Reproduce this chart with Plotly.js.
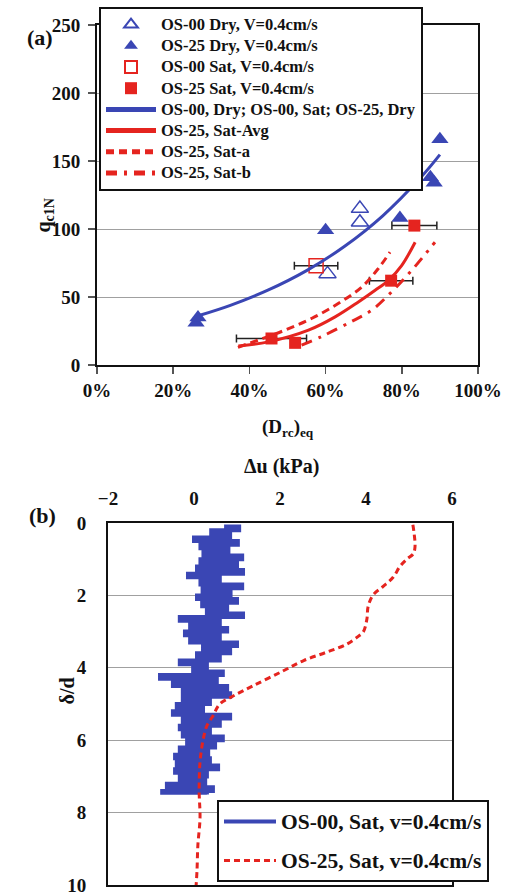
<!DOCTYPE html>
<html>
<head>
<meta charset="utf-8">
<script src="https://cdn.plot.ly/plotly-3.0.1.min.js"></script>
<style>
  html, body { margin: 0; padding: 0; background: #fff; }
  #chart { width: 508px; height: 896px; }
</style>
</head>
<body>
<div id="chart"></div>
<script>
// ---------- (a) normalized cone resistance vs equivalent relative density ----------
const os00DryD = [0.69, 0.69, 0.605];
const os00DryQ = [115, 105, 67];

const os25DryD = [0.26, 0.265, 0.60, 0.795, 0.875, 0.885, 0.90];
const os25DryQ = [31, 35, 99, 108, 138, 134, 166];

const os00SatD = [0.575];
const os00SatQ = [73];
const os00SatErr = [0.057];

const os25SatD = [0.458, 0.52, 0.772, 0.833];
const os25SatQ = [19.5, 16.3, 62, 102.5];
const os25SatErr = [0.092, 0, 0.057, 0.059];

// trend curves
const dryFitD = [0.27, 0.35, 0.45, 0.55, 0.65, 0.75, 0.85, 0.90];
const dryFitQ = [36.6, 43.9, 55.2, 69.4, 87.3, 109.7, 138.0, 154.7];

const satAvgD = [0.371, 0.45, 0.555, 0.625, 0.686, 0.73, 0.765, 0.80, 0.835];
const satAvgQ = [13.9, 17.0, 25.6, 35.4, 46.4, 55.0, 62.3, 73.3, 90.3];

const satAD = [0.37, 0.423, 0.493, 0.563, 0.633, 0.695, 0.738, 0.769];
const satAQ = [13.0, 18.3, 25.6, 34.2, 45.2, 57.4, 70.8, 83.0];

const satBD = [0.537, 0.59, 0.668, 0.721, 0.773, 0.826, 0.887];
const satBQ = [14.6, 21.0, 32.0, 40.3, 53.7, 69.6, 90.3];

// ---------- (b) excess pore pressure vs normalized penetration depth ----------
const os00Depth = [0.1, 0.2, 0.3, 0.4, 0.5, 0.6, 0.7, 0.8, 0.9, 1.0,
  1.1, 1.2, 1.3, 1.4, 1.5, 1.6, 1.7, 1.8, 1.9, 2.0,
  2.1, 2.2, 2.3, 2.4, 2.5, 2.6, 2.7, 2.8, 2.9, 3.0,
  3.1, 3.2, 3.3, 3.4, 3.5, 3.6, 3.7, 3.8, 3.9, 4.0,
  4.1, 4.2, 4.3, 4.4, 4.5, 4.6, 4.7, 4.8, 4.9, 5.0,
  5.1, 5.2, 5.3, 5.4, 5.5, 5.6, 5.7, 5.8, 5.9, 6.0,
  6.1, 6.2, 6.3, 6.4, 6.5, 6.6, 6.7, 6.8, 6.9, 7.0,
  7.1, 7.2, 7.3, 7.4, 7.45, 7.5];
const os00Du = [0.70, 1.05, 0.40, 0.84, 0.00, 1.02, 0.15, 0.80, 0.22, 1.12,
  0.15, 1.00, 0.07, 1.14, -0.14, 0.60, 0.15, 1.12, 0.20, 0.85,
  0.07, 1.00, 0.19, 0.77, 0.30, 1.14, -0.33, 0.60, -0.09, 0.77,
  -0.21, 0.60, -0.09, 1.00, 0.21, 0.84, 0.07, 0.60, -0.33, 0.30,
  -0.02, 0.67, -0.79, 0.53, -0.49, 0.77, -0.26, 0.84, -0.26, 0.37,
  -0.40, 0.21, -0.49, 0.84, -0.26, 0.60, -0.33, 0.37, -0.26, 0.67,
  -0.16, 0.49, -0.33, 0.33, -0.44, 0.37, -0.40, 0.56, -0.44, 0.30,
  -0.33, 0.26, -0.63, 0.44, -0.74, 0.30];

const os25Depth = [0.05, 0.3, 0.65, 0.85, 1.0, 1.2, 1.5, 1.75, 1.98, 2.3,
  2.66, 3.0, 3.13, 3.35, 3.57, 3.8, 4.1, 4.5, 4.78, 5.0,
  5.33, 5.6, 6.0, 6.6, 7.4, 8.15, 8.9, 9.6, 10.0];
const os25Du = [5.09, 5.12, 5.14, 5.10, 4.95, 4.79, 4.63, 4.40, 4.17, 4.05,
  4.02, 3.94, 3.82, 3.55, 3.08, 2.55, 2.05, 1.37, 0.91, 0.60,
  0.44, 0.30, 0.21, 0.14, 0.12, 0.14, 0.09, 0.07, 0.05];

const BLUE = '#3a46b4';
const RED = '#e5241f';
const SERIF = '"Liberation Serif", "Times New Roman", Times, serif';
const boldFont = (size, color) => ({ family: SERIF, size: size, color: color || '#111', weight: 'bold' });
// legend rows are spaced by the legend font; the label itself is set a little larger
const big = (label, size) => '<span style="font-size:' + size + 'px">' + label + '</span>';

const traces = [
  { x: os00DryD, y: os00DryQ, type: 'scatter', mode: 'markers', name: big('OS-00 Dry, V=0.4cm/s', 16.5),
    marker: { symbol: 'triangle-up-open', size: 15, color: BLUE, line: { width: 1.5, color: BLUE } } },
  { x: os25DryD, y: os25DryQ, type: 'scatter', mode: 'markers', name: big('OS-25 Dry, V=0.4cm/s', 16.5),
    marker: { symbol: 'triangle-up', size: 15, color: BLUE } },
  { x: os00SatD, y: os00SatQ, type: 'scatter', mode: 'markers', name: big('OS-00 Sat, V=0.4cm/s', 16.5),
    marker: { symbol: 'square-open', size: 14, color: RED, line: { width: 1.5, color: RED } },
    error_x: { type: 'data', array: os00SatErr, color: '#222', thickness: 1.5, width: 4 } },
  { x: os25SatD, y: os25SatQ, type: 'scatter', mode: 'markers', name: big('OS-25 Sat, V=0.4cm/s', 16.5),
    marker: { symbol: 'square', size: 12, color: RED },
    error_x: { type: 'data', array: os25SatErr, color: '#222', thickness: 1.5, width: 4 } },
  { x: dryFitD, y: dryFitQ, type: 'scatter', mode: 'lines', name: big('OS-00, Dry; OS-00, Sat; OS-25, Dry', 16.5),
    line: { color: BLUE, width: 3, shape: 'spline' } },
  { x: satAvgD, y: satAvgQ, type: 'scatter', mode: 'lines', name: big('OS-25, Sat-Avg', 16.5),
    line: { color: RED, width: 3, shape: 'spline' } },
  { x: satAD, y: satAQ, type: 'scatter', mode: 'lines', name: big('OS-25, Sat-a', 16.5),
    line: { color: RED, width: 3, shape: 'spline', dash: '8px,5px' } },
  { x: satBD, y: satBQ, type: 'scatter', mode: 'lines', name: big('OS-25, Sat-b', 16.5),
    line: { color: RED, width: 3, shape: 'spline', dash: '11px,7px,3px,7px' } },

  { x: os00Du, y: os00Depth, type: 'scatter', mode: 'lines', name: big('OS-00, Sat, v=0.4cm/s', 21.5),
    xaxis: 'x2', yaxis: 'y2', legend: 'legend2', legendgroup: 'b1',
    line: { color: BLUE, width: 4, shape: 'hv' } },
  { x: os25Du, y: os25Depth, type: 'scatter', mode: 'lines', name: big('OS-25, Sat, v=0.4cm/s', 21.5),
    xaxis: 'x2', yaxis: 'y2', legend: 'legend2', legendgroup: 'b2',
    line: { color: RED, width: 3, shape: 'spline', dash: '6px,4px' } }
];

const W = 508, H = 896;
const px = v => v / W;
const py = v => 1 - v / H;

const axisBase = {
  showline: true, linecolor: '#111', linewidth: 2, mirror: true,
  zeroline: false, tickfont: boldFont(19), gridcolor: '#a0a0a0', gridwidth: 1,
  ticklabeloverflow: 'allow'
};

const layout = {
  width: W, height: H,
  margin: { l: 0, r: 0, t: 0, b: 0 },
  paper_bgcolor: '#fff', plot_bgcolor: '#fff',
  showlegend: true,
  font: { family: SERIF },
  xaxis: Object.assign({}, axisBase, {
    domain: [px(97), px(478)], range: [0, 1], dtick: 0.2, tickformat: '.0%',
    showgrid: false, ticks: 'outside', ticklen: 7, tickwidth: 1.5, tickcolor: '#555', anchor: 'y'
  }),
  yaxis: Object.assign({}, axisBase, {
    domain: [py(365), py(25)], range: [0, 250], dtick: 50,
    showgrid: true, ticks: 'outside', ticklen: 7, tickwidth: 1.5, tickcolor: '#555', anchor: 'x',
    ticklabelstandoff: 4
  }),
  xaxis2: Object.assign({}, axisBase, {
    domain: [px(108), px(452)], range: [-2, 6], dtick: 2, side: 'top',
    showgrid: false, ticks: '', anchor: 'y2', ticklabelstandoff: 8
  }),
  yaxis2: Object.assign({}, axisBase, {
    domain: [py(885), py(523)], range: [10, 0], dtick: 2,
    showgrid: true, ticks: '', anchor: 'x2', ticklabelstandoff: 16
  }),
  legend: {
    x: px(99), y: py(7), xanchor: 'left', yanchor: 'top',
    bgcolor: '#fff', bordercolor: '#111', borderwidth: 2,
    font: boldFont(14), tracegroupgap: 0, itemsizing: 'constant', itemwidth: 50
  },
  legend2: {
    x: px(217), y: py(800), xanchor: 'left', yanchor: 'top',
    bgcolor: '#fff', bordercolor: '#111', borderwidth: 2,
    font: boldFont(20), traceorder: 'grouped', tracegroupgap: 10, itemwidth: 52
  },
  annotations: [
    { text: '(a)', x: px(25), y: py(23), xref: 'paper', yref: 'paper', showarrow: false, font: boldFont(22) },
    { text: '(b)', x: px(27), y: py(515), xref: 'paper', yref: 'paper', showarrow: false, font: boldFont(22) },
    { text: 'q<sub>c1N</sub>', x: px(30), y: py(197), xref: 'paper', yref: 'paper', showarrow: false,
      textangle: -90, font: boldFont(20) },
    { text: '(D<sub>rc</sub>)<sub>eq</sub>', x: px(288), y: py(428), xref: 'paper', yref: 'paper',
      showarrow: false, font: boldFont(19) },
    { text: 'Δu (kPa)', x: px(281), y: py(467), xref: 'paper', yref: 'paper', showarrow: false, font: boldFont(20) },
    { text: 'δ/d', x: px(53), y: py(707), xref: 'paper', yref: 'paper', showarrow: false,
      textangle: -90, font: boldFont(20) }
  ]
};

Plotly.newPlot('chart', traces, layout, { displayModeBar: false, staticPlot: true });
</script>
</body>
</html>
